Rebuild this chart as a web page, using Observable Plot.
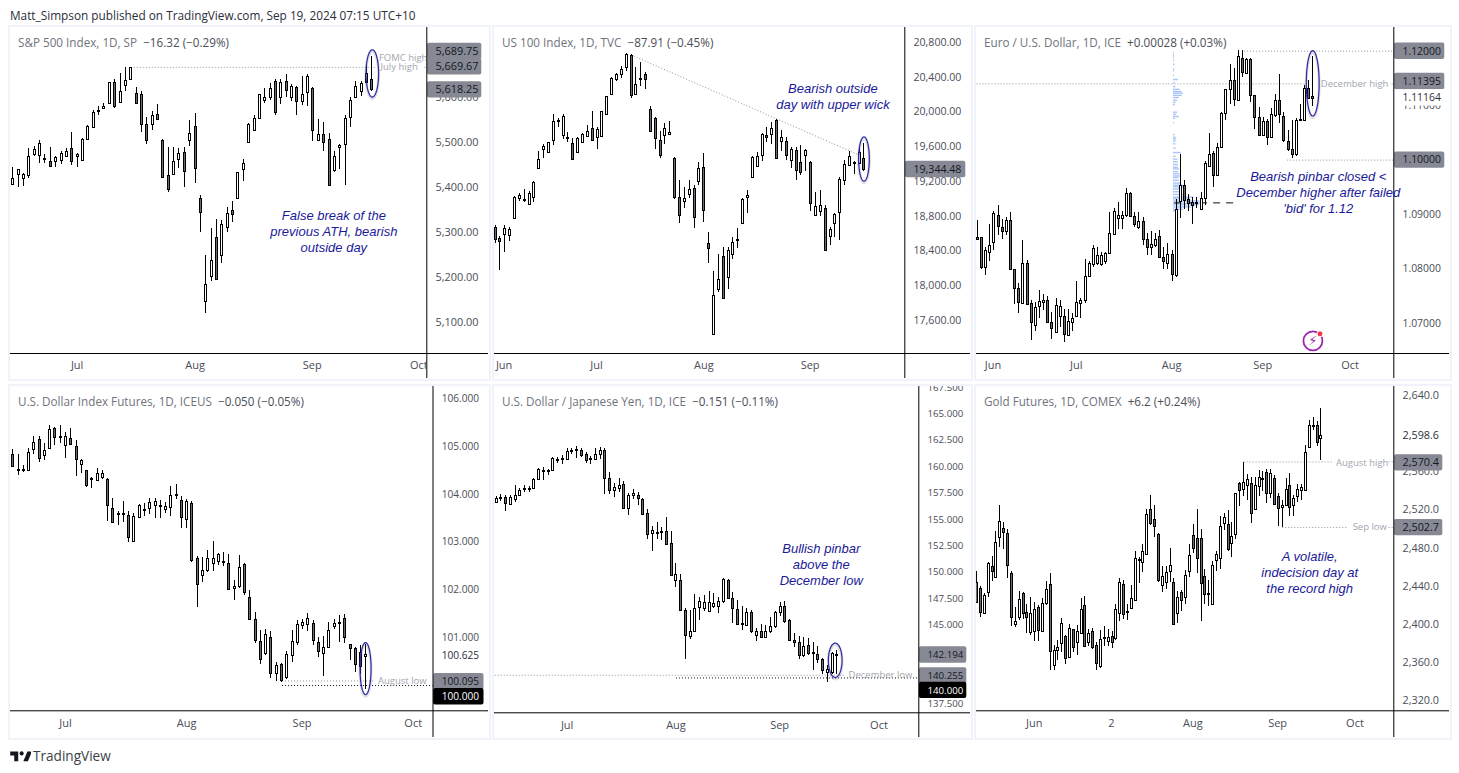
<!DOCTYPE html>
<html><head><meta charset="utf-8">
<script src="https://cdn.jsdelivr.net/npm/d3@7"></script>
<script src="https://cdn.jsdelivr.net/npm/@observablehq/plot@0.6"></script>
<style>
html,body{margin:0;padding:0;background:#fff;width:1459px;height:773px;overflow:hidden;font-family:"Open Sans",sans-serif}
#page{position:relative;width:1459px;height:773px}
.frame{position:absolute;box-sizing:border-box;border:2.5px solid #f0f3fa}
.holder{position:absolute}
.title{position:absolute;font-size:11.7px;line-height:16px;white-space:pre;color:#70737c}
.title b{font-weight:400;color:#4b4e57}
#head{position:absolute;left:10px;top:7px;font-size:11.8px;line-height:16px;color:#2a2e39;white-space:pre}
#foot{position:absolute;left:33px;top:747px;font-size:13.6px;line-height:18px;color:#3c3f48}
#logo{position:absolute;left:10px;top:748px}
</style></head><body><div id="page">
<div id="head">Matt_Simpson published on TradingView.com, Sep 19, 2024 07:15 UTC+10</div>
<svg id="logo" width="21" height="16" viewBox="0 0 36 28"><path fill="#131722" d="M14 6H0v7h7v10h7V6zm17 17h-8l7-17h8l-7 17z"/><circle cx="20" cy="9.5" r="3.6" fill="#131722"/></svg>
<div id="foot">TradingView</div>
</div>
<script>
// ---- S&P 500 ----
const spxHigh=[5444,5440,5432,5486,5490,5504,5473,5489,5470,5481,5487,5522,5476,5508,5537,5570,5581,5587,5633,5641,5654,5667,5667,5622,5613,5555,5568,5584,5506,5488,5488,5486,5488,5548,5564,5382,5249,5310,5328,5327,5356,5368,5434,5462,5543,5559,5607,5619,5630,5641,5639,5650,5628,5625,5647,5650,5622,5551,5544,5519,5481,5495,5560,5599,5636,5636,5670,5690];
const spxTop=[5419,5439,5428,5470,5484,5497,5464,5457,5466,5475,5481,5486,5473,5506,5536,5566,5571,5581,5633,5633,5613,5637,5666,5608,5606,5541,5561,5563,5504,5426,5457,5475,5477,5519,5535,5375,5184,5237,5290,5317,5342,5348,5433,5453,5541,5553,5606,5601,5619,5636,5633,5636,5624,5622,5606,5646,5621,5517,5517,5506,5469,5493,5553,5593,5624,5631,5653,5639];
const spxBottom=[5406,5430,5421,5427,5474,5471,5464,5446,5458,5459,5470,5457,5468,5459,5506,5533,5570,5575,5587,5579,5588,5627,5641,5586,5541,5504,5541,5552,5423,5396,5430,5462,5435,5504,5443,5344,5147,5203,5196,5250,5312,5341,5375,5439,5499,5527,5553,5593,5601,5567,5599,5615,5601,5590,5590,5610,5526,5504,5501,5405,5438,5488,5495,5555,5601,5613,5633,5618];
const spxLow=[5406,5401,5403,5419,5470,5453,5453,5445,5445,5451,5468,5450,5444,5459,5506,5532,5561,5575,5586,5576,5586,5613,5638,5586,5522,5496,5527,5552,5419,5389,5430,5442,5401,5491,5410,5301,5119,5191,5195,5232,5299,5323,5374,5414,5499,5526,5550,5586,5593,5561,5585,5600,5591,5561,5583,5581,5503,5504,5479,5402,5434,5441,5405,5534,5601,5602,5633,5613];
const spxDir="uuuuuudduu"+"uduuuuuuud"+"uuuddduddd"+"uududduudu"+"uduuuuuuud"+"ududuududd"+"uuuuuuud";
const spxTicks=[5100,5200,5300,5400,5500,5600];
const spxMonths=[[12,"Jul"],[34,"Aug"],[55.85,"Sep"],[75.75,"Oct"]];

// ---- US 100 ----
const ndxHigh=[18693,18567,18690,18674,19027,19058,19104,19081,19200,19545,19626,19649,19971,19921,19967,19764,19699,19710,19749,19845,20006,19825,20006,20178,20393,20447,20524,20670,20662,20516,20570,20458,20063,19933,19775,19864,19891,19472,19211,19135,19211,19154,19415,19518,18613,18160,18360,18440,18436,18552,18655,19004,19096,19484,19538,19753,19818,19879,19917,19787,19710,19591,19587,19611,19568,19430,19070,19096,18920,18674,18835,19250,19442,19541,19430,19576,19634];
const ndxTop=[18667,18544,18655,18644,19020,19035,18993,19062,19192,19449,19599,19645,19887,19906,19944,19703,19637,19695,19737,19772,19806,19799,20002,20175,20386,20432,20485,20666,20650,20317,20382,20428,20029,19925,19668,19806,19768,19465,19020,19008,19104,19115,19346,19357,18482,17884,18068,18337,18402,18494,18532,18993,19035,19476,19492,19745,19726,19806,19902,19703,19664,19564,19553,19415,19561,19423,18908,18924,18885,18644,18816,19219,19400,19492,19415,19530,19461];
const ndxBottom=[18529,18513,18586,18582,18778,19004,18985,18931,19012,19346,19564,19534,19668,19898,19733,19691,19457,19534,19649,19722,19668,19703,19722,19975,20205,20374,20435,20516,20194,20205,20374,20378,19779,19691,19499,19733,19737,19020,18812,18974,19050,18782,19204,18870,18425,17435,17953,17849,18091,18356,18528,18713,19012,19242,19376,19503,19703,19745,19468,19657,19503,19438,19330,19307,19495,18943,18812,18855,18402,18563,18713,18847,19211,19380,19411,19411,19344];
const ndxLow=[18482,18179,18387,18513,18770,18974,18954,18927,18962,19342,19461,19526,19614,19825,19680,19645,19453,19518,19641,19710,19664,19572,19718,19971,20194,20355,20389,20466,20159,20201,20293,20259,19775,19572,19465,19626,19729,18997,18720,18893,19000,18663,19154,18732,18260,17431,17926,17846,17961,18306,18433,18709,18835,19238,19373,19434,19645,19626,19457,19541,19438,19346,19211,19269,19315,18858,18801,18801,18398,18463,18559,18521,19158,19376,19284,19407,19319];
const ndxDir="dduuuuuuuu"+"uuuuudduuu"+"duuuuuuudu"+"ddddduuddu"+"ududduuduu"+"uuuuuududu"+"dudduduudu"+"uuuuuud";
const ndxTicks=[17600,18000,18400,18800,19200,19600,20000,20400,20800];
const ndxMonths=[[1.85,"Jun"],[20.9,"Jul"],[43,"Aug"],[64.9,"Sep"]];

// ---- EUR/USD ----
const eurHigh=[1.0889,1.0858,1.0840,1.0882,1.0906,1.0916,1.0891,1.0895,1.0903,1.0800,1.0773,1.0852,1.0816,1.0743,1.0739,1.0760,1.0753,1.0750,1.0721,1.0745,1.0742,1.0725,1.0725,1.0718,1.0777,1.0746,1.0817,1.0813,1.0843,1.0840,1.0830,1.0830,1.0904,1.0911,1.0923,1.0906,1.0947,1.0940,1.0904,1.0904,1.0895,1.0865,1.0869,1.0865,1.0871,1.0840,1.0847,1.0834,1.0927,1.1010,1.0963,1.0937,1.0932,1.0932,1.0940,1.0998,1.1048,1.1016,1.1030,1.1088,1.1130,1.1176,1.1168,1.1201,1.1201,1.1186,1.1186,1.1119,1.1096,1.1078,1.1074,1.1094,1.1120,1.1157,1.1088,1.1054,1.1073,1.1076,1.1102,1.1137,1.1146,1.1191];
const eurTop=[1.0858,1.0857,1.0834,1.0844,1.0902,1.0899,1.0877,1.0890,1.0890,1.0799,1.0764,1.0811,1.0811,1.0737,1.0730,1.0740,1.0743,1.0743,1.0701,1.0733,1.0732,1.0713,1.0703,1.0710,1.0738,1.0743,1.0786,1.0811,1.0837,1.0824,1.0824,1.0829,1.0865,1.0905,1.0899,1.0898,1.0938,1.0939,1.0896,1.0888,1.0888,1.0854,1.0845,1.0854,1.0859,1.0822,1.0827,1.0827,1.0909,1.0953,1.0953,1.0927,1.0923,1.0922,1.0930,1.0993,1.1011,1.1013,1.1024,1.1086,1.1129,1.1147,1.1147,1.1191,1.1187,1.1185,1.1185,1.1118,1.1078,1.1070,1.1070,1.1083,1.1109,1.1109,1.1080,1.1035,1.1019,1.1073,1.1074,1.1131,1.1131,1.1116];
const eurBottom=[1.0855,1.0802,1.0802,1.0831,1.0848,1.0879,1.0868,1.0868,1.0799,1.0764,1.0739,1.0737,1.0735,1.0701,1.0696,1.0731,1.0739,1.0702,1.0690,1.0684,1.0712,1.0679,1.0678,1.0702,1.0713,1.0737,1.0743,1.0786,1.0809,1.0810,1.0808,1.0813,1.0828,1.0864,1.0893,1.0893,1.0898,1.0896,1.0881,1.0877,1.0854,1.0839,1.0839,1.0843,1.0822,1.0813,1.0811,1.0790,1.0788,1.0924,1.0926,1.0921,1.0917,1.0920,1.0910,1.0930,1.0989,1.0971,1.0971,1.1023,1.1085,1.1129,1.1111,1.1109,1.1160,1.1159,1.1118,1.1078,1.1046,1.1045,1.1042,1.1042,1.1082,1.1083,1.1036,1.1019,1.1011,1.1010,1.1073,1.1073,1.1114,1.1114];
const eurLow=[1.0855,1.0800,1.0788,1.0813,1.0834,1.0862,1.0855,1.0862,1.0798,1.0734,1.0719,1.0736,1.0734,1.0668,1.0686,1.0710,1.0724,1.0702,1.0671,1.0683,1.0693,1.0665,1.0678,1.0686,1.0713,1.0710,1.0737,1.0785,1.0802,1.0806,1.0804,1.0809,1.0827,1.0862,1.0873,1.0873,1.0895,1.0895,1.0876,1.0873,1.0844,1.0825,1.0825,1.0840,1.0821,1.0800,1.0800,1.0778,1.0784,1.0893,1.0909,1.0906,1.0882,1.0911,1.0909,1.0917,1.0987,1.0950,1.0970,1.1022,1.1073,1.1102,1.1098,1.1109,1.1152,1.1157,1.1106,1.1056,1.1045,1.1044,1.1027,1.1040,1.1078,1.1068,1.1033,1.1016,1.1003,1.1007,1.1073,1.1071,1.1112,1.1098];
const eurDir="dduuuddudd"+"dudduuuddu"+"uduuuuuuuu"+"uuuuuuuddu"+"dduudduduu"+"ddduuuuduu"+"uudududddu"+"duudddduuudd";
const eurTicks=[1.07,1.08,1.09,1.10,1.11,1.12];
const eurMonths=[[3.8,"Jun"],[23.9,"Jul"],[46.9,"Aug"],[68.9,"Sep"],[89.95,"Oct"]];
const eurProfilePrice=[1.1197,1.1193,1.1190,1.1186,1.1182,1.1175,1.1166,1.1163,1.1155,1.1147,1.1141,1.1134,1.1129,1.1125,1.1122,1.1118,1.1114,1.1109,1.1105,1.1101,1.1087,1.1083,1.1079,1.1076,1.1068,1.1046,1.1041,1.1038,1.1034,1.1029,1.1021,1.1013,1.1006,1.1001,1.0996,1.0991,1.0986,1.0983,1.0978,1.0974,1.0970,1.0967,1.0962,1.0957,1.0953,1.0950,1.0946,1.0941,1.0936,1.0931,1.0928,1.0924,1.0920,1.0917,1.0913,1.0909,1.0906];
const eurProfileVolume=[3,3,3,3,3,5,4,3,3,15,5,7,20,26,30,26,18,12,8,6,12,10,18,6,3,5,8,10,8,7,8,24,8,14,14,15,15,18,15,20,22,16,18,22,30,36,20,25,35,62,50,80,90,78,55,30,10];

// ---- DXY ----
const dxyHigh=[104.93,104.83,104.60,104.95,105.21,105.21,105.06,105.44,105.41,105.44,105.30,105.38,105.13,104.72,104.50,104.35,104.54,104.50,104.34,103.92,103.65,103.85,103.65,103.59,103.78,103.81,103.91,103.92,103.87,103.83,104.16,104.21,103.95,103.90,103.86,102.71,102.67,102.82,103.01,102.77,102.78,102.75,102.19,102.72,102.55,101.98,101.52,101.16,101.17,101.13,100.48,100.46,100.71,101.15,101.37,101.38,101.50,101.37,101.01,101.02,101.31,101.39,101.46,101.48,100.85,100.80,100.83,100.85];
const dxyTop=[104.83,104.53,104.53,104.87,105.08,105.14,104.91,105.35,105.37,105.21,105.22,105.18,105.00,104.71,104.49,104.34,104.44,104.43,104.32,103.70,103.60,103.61,103.55,103.53,103.76,103.69,103.83,103.86,103.76,103.74,103.97,103.99,103.88,103.86,103.80,102.65,102.40,102.65,102.66,102.74,102.60,102.56,102.08,102.46,102.53,101.85,101.38,100.92,101.06,101.01,100.41,100.43,100.64,100.93,101.27,101.31,101.41,101.29,100.89,100.80,101.16,101.29,101.31,101.41,100.85,100.78,100.69,100.64];
const dxyBottom=[104.59,104.51,104.52,104.51,104.93,104.76,104.81,104.97,105.20,105.20,105.02,105.04,104.72,104.63,104.18,104.32,104.29,104.36,103.77,103.42,103.59,103.60,103.09,103.02,103.52,103.67,103.70,103.76,103.74,103.69,103.72,103.97,103.51,103.48,102.61,102.12,102.31,102.40,102.56,102.60,102.59,102.02,102.04,102.07,101.95,101.38,100.95,100.55,100.66,100.25,100.25,100.11,100.16,100.62,100.90,101.26,101.27,100.94,100.71,100.66,100.80,101.24,101.29,101.01,100.78,100.45,100.39,100.60];
const dxyLow=[104.58,104.39,104.45,104.51,104.84,104.67,104.70,104.93,105.03,105.07,104.76,105.02,104.38,104.44,104.14,104.13,104.27,104.32,103.43,103.40,103.35,103.42,103.00,103.01,103.51,103.53,103.57,103.50,103.50,103.59,103.53,103.90,103.29,103.29,102.58,101.63,102.16,102.37,102.39,102.52,102.50,102.01,101.77,102.04,101.89,101.37,100.88,100.44,100.63,100.15,100.09,100.07,100.13,100.48,100.83,101.17,101.13,100.83,100.59,100.19,100.78,101.17,100.90,100.87,100.53,100.27,100.24,99.92];
const dxyDir="dduuuduudu"+"uddudduudd"+"uuduuuuuuu"+"uddudduuuu"+"dduuddddud"+"uduuuuuddu"+"uuuddddu";
const dxyTicks=[101,102,103,104,105,106];
const dxyMonths=[[10,"Jul"],[33,"Aug"],[54.9,"Sep"],[76,"Oct"]];

// ---- USD/JPY ----
const jpyHigh=[157.17,157.33,157.29,157.26,158.18,157.93,158.18,158.12,158.87,159.82,159.88,159.76,160.83,160.83,161.05,161.72,161.68,161.91,161.68,161.31,160.96,161.72,161.81,161.72,159.41,158.43,158.84,158.59,157.42,157.80,157.52,157.01,155.91,154.33,154.67,154.26,155.15,153.82,150.88,149.75,146.62,146.37,147.88,147.63,147.79,148.17,147.95,147.57,149.37,149.34,148.07,147.31,146.81,146.53,146.43,144.66,145.10,145.01,145.74,146.27,147.16,147.22,145.52,144.16,143.97,143.84,143.71,143.37,143.02,141.88,141.16,142.42,142.64];
const jpyTop=[156.98,157.07,157.04,157.04,157.23,157.71,157.90,157.90,158.81,159.69,159.63,159.63,160.77,160.71,160.80,161.40,161.50,161.59,161.53,161.15,160.74,161.18,161.56,161.50,158.84,157.99,158.24,158.27,157.30,157.42,157.23,156.85,155.53,153.92,153.79,153.88,153.88,152.68,149.78,149.27,146.34,144.41,146.62,147.19,147.13,147.13,147.06,147.19,149.31,149.27,147.54,146.49,145.14,146.15,146.15,144.44,144.44,144.44,144.85,146.15,146.81,146.81,145.42,143.59,143.40,143.02,143.11,142.39,142.26,141.76,140.78,142.29,142.26];
const jpyBottom=[156.63,156.98,156.50,156.44,156.88,157.26,157.83,157.83,157.90,158.81,159.57,159.60,159.60,160.64,160.74,160.64,161.43,161.50,161.02,160.58,160.67,160.71,161.15,158.84,157.74,157.77,157.96,156.06,156.06,157.23,156.95,155.49,153.60,153.63,153.63,153.73,152.59,149.68,149.27,146.40,144.03,143.94,144.41,146.68,146.62,146.30,146.78,146.81,147.19,147.54,146.53,145.10,145.07,145.01,144.35,144.06,143.87,143.84,144.44,144.85,146.18,145.36,143.59,143.37,142.17,142.14,142.33,142.29,141.79,140.75,140.53,140.53,142.17];
const jpyLow=[156.60,156.73,155.78,156.41,156.60,157.17,157.55,157.55,157.86,158.68,158.72,159.16,159.57,160.29,160.23,160.58,161.15,160.80,160.83,160.29,160.20,160.67,160.67,157.36,157.36,157.11,157.55,156.03,155.37,156.88,156.32,155.46,153.09,151.96,153.09,153.03,152.56,149.62,148.58,146.37,141.76,143.65,144.31,145.45,146.30,146.24,146.53,146.11,147.00,147.50,145.14,145.04,144.47,144.95,144.16,143.43,143.81,143.71,144.22,144.69,145.80,145.17,143.53,142.89,141.76,141.95,142.11,140.68,141.32,140.37,139.58,140.30,140.30];
const jpyDir="uuduuuuuuu"+"uuuuuuuudd"+"uuudduuduu"+"ddduuuddud"+"duuuuuuuud"+"dduududuuu"+"uddddududd"+"uuu";
const jpyTicks=[137.5,140,142.5,145,147.5,150,152.5,155,157.5,160,162.5,165,167.5];
const jpyMonths=[[15,"Jul"],[38,"Aug"],[59.9,"Sep"],[80.9,"Oct"]];

// ---- Gold ----
const goldHigh=[2455,2440,2432,2465,2471,2497,2525,2507,2500,2455,2418,2435,2434,2421,2428,2423,2420,2427,2445,2453,2378,2383,2406,2388,2400,2395,2399,2427,2429,2395,2396,2381,2394,2398,2395,2393,2421,2448,2446,2421,2441,2477,2470,2484,2521,2535,2525,2495,2461,2461,2480,2448,2435,2436,2457,2484,2505,2521,2500,2458,2446,2466,2476,2513,2516,2519,2507,2537,2549,2570,2557,2554,2554,2561,2560,2562,2562,2556,2537,2530,2553,2558,2535,2547,2547,2588,2614,2617,2613,2626];
const goldTop=[2444,2438,2430,2464,2461,2486,2508,2501,2495,2453,2403,2426,2432,2413,2411,2416,2418,2422,2437,2442,2373,2376,2401,2387,2396,2395,2393,2416,2420,2391,2393,2378,2384,2386,2386,2387,2416,2444,2442,2414,2427,2469,2468,2476,2515,2520,2510,2494,2450,2454,2462,2444,2428,2434,2451,2472,2493,2490,2490,2450,2432,2462,2473,2503,2512,2505,2492,2537,2548,2549,2552,2548,2546,2554,2553,2559,2558,2553,2534,2525,2542,2546,2532,2542,2544,2580,2609,2609,2609,2598];
const goldBottom=[2423,2413,2412,2433,2455,2449,2491,2496,2462,2407,2400,2407,2411,2407,2392,2393,2394,2393,2422,2372,2357,2373,2380,2364,2365,2376,2381,2391,2377,2381,2376,2359,2356,2385,2382,2381,2385,2411,2410,2413,2417,2425,2467,2465,2473,2506,2503,2446,2441,2444,2456,2400,2411,2425,2428,2455,2480,2469,2443,2431,2431,2421,2467,2469,2506,2479,2485,2494,2540,2541,2546,2516,2520,2545,2552,2537,2537,2526,2522,2523,2525,2523,2525,2534,2540,2540,2586,2609,2591,2595];
const goldLow=[2423,2407,2411,2428,2445,2448,2481,2479,2448,2398,2397,2404,2405,2391,2388,2382,2382,2393,2420,2352,2352,2362,2371,2358,2365,2371,2367,2389,2377,2377,2374,2352,2354,2377,2377,2375,2383,2403,2405,2404,2416,2424,2443,2454,2472,2504,2491,2444,2433,2437,2444,2399,2401,2414,2421,2449,2474,2453,2403,2421,2419,2420,2456,2458,2498,2476,2470,2489,2524,2534,2530,2506,2519,2534,2539,2527,2532,2526,2503,2502,2524,2513,2513,2528,2530,2539,2585,2603,2587,2572];
const goldDir="dduuduuddd"+"uudduuduud"+"uuududuudu"+"dduuuduudu"+"uuuuuddduu"+"ududuudddd"+"uuuuuduudu"+"uduuududdu"+"uduuuuuudu";
const goldTicks=[2320,2360,2400,2440,2480,2520,2560,2600,2640];
const goldMonths=[[14.9,"Jun"],[34.85,"2"],[55.9,"Aug"],[77.8,"Sep"],[97.8,"Oct"]];

const GREY="#868993", BLUE="#1a1a99", NOTE="#a3a6af", DOT="#8f929b";

const panels=[
 {name:"S&P 500 Index, 1D, SP",chg:"  \u221216.32 (\u22120.29%)",L:10,T:27,R:488,B:378,axisX:426.3,axisY:353,xd:[-0.435,77.24],yd:[5031.2,5755.5],fs:10.9,
  high:spxHigh,top:spxTop,bottom:spxBottom,low:spxLow,dir:spxDir,ticks:spxTicks,fmt:",.2f",months:spxMonths,boxW:55,
  boxes:[{t:"5,689.75",at:5702.2},{t:"5,669.67",at:5668},{t:"5,618.25",at:5617}],
  levels:[[22,5667,67.6,5667,"g"],[76.8,5667,77.24,5667,"g"]],
  ring:[65.9,68.25,5601,5706],
  note:{t:"False break of the\nprevious ATH, bearish\noutside day",x:59.9,y:5301.5},
  tags:[{t:"FOMC high",x:68.3,y:5687.4},{t:"July high",x:68.6,y:5667.4}]},
 {name:"US 100 Index, 1D, TVC",chg:"  \u221287.91 (\u22120.45%)",L:494,T:27,R:970,B:378,axisX:904.3,axisY:353,xd:[-0.13,84.41],yd:[17220,20973],fs:10.6,
  high:ndxHigh,top:ndxTop,bottom:ndxBottom,low:ndxLow,dir:ndxDir,ticks:ndxTicks,fmt:",.2f",months:ndxMonths,boxW:61,
  boxes:[{t:"19,344.48",at:19338}],
  levels:[[28,20658,75.2,19499,"g"]],
  ring:[74.9,77.1,19204,19714],
  note:{t:"Bearish outside\nday with upper wick",x:69.6,y:20174.5},tags:[]},
 {name:"Euro / U.S. Dollar, 1D, ICE",chg:"  +0.00028 (+0.03%)",L:976,T:27,R:1449,B:378,axisX:1393.3,axisY:353,xd:[-0.2,100.52],yd:[1.06449,1.12435],fs:10.4,
  high:eurHigh,top:eurTop,bottom:eurBottom,low:eurLow,dir:eurDir,ticks:eurTicks,fmt:".5f",months:eurMonths,boxW:51,
  boxes:[{t:"1.12000",at:1.12},{t:"1.11395",at:1.11443},{t:"1.11164",at:1.11143,white:1},{t:"1.10000",at:1.09999}],
  levels:[[64.4,1.12,100.52,1.12,"g"],[-0.2,1.114,79.4,1.114,"g"],[100,1.114,100.52,1.114,"g"],[74.8,1.1,100.52,1.1,"g"],[47.5,1.09215,62,1.09215,"d"]],
  ring:[79.4,82.5,1.1081,1.1201],
  note:{t:"Bearish pinbar closed <\nDecember higher after failed\n'bid' for 1.12",x:82.3,y:1.09399},
  tags:[{t:"December high",x:82.9,y:1.114}],
  profile:true,icon:{x:81,y:1.0668,rx:82.7,ry:1.0681}},
 {name:"U.S. Dollar Index Futures, 1D, ICEUS",chg:"  \u22120.050 (\u22120.05%)",L:10,T:386,R:488,B:737,axisX:432.5,axisY:710.3,xd:[-0.44,79.75],yd:[99.471,106.258],fs:10.1,
  high:dxyHigh,top:dxyTop,bottom:dxyBottom,low:dxyLow,dir:dxyDir,ticks:dxyTicks,fmt:".3f",months:dxyMonths,boxW:51,
  boxes:[{t:"100.625",at:100.623,white:1},{t:"100.095",at:100.078},{t:"100.000",at:99.764,black:1}],
  levels:[[51.1,100.095,68.5,100.095,"g"],[51.1,100.0,79.75,100.0,"k"]],
  ring:[65.9,68,99.81,100.9],
  tags:[{t:"August low",x:69.3,y:100.1}]},
 {name:"U.S. Dollar / Japanese Yen, 1D, ICE",chg:"  \u22120.151 (\u22120.11%)",L:494,T:386,R:970,B:737,axisX:918.3,axisY:712.3,xd:[-0.345,89.31],yd:[136.7,167.59],fs:9.7,
  high:jpyHigh,top:jpyTop,bottom:jpyBottom,low:jpyLow,dir:jpyDir,ticks:jpyTicks,fmt:".3f",months:jpyMonths,boxW:48,
  boxes:[{t:"142.194",at:142.17},{t:"140.255",at:140.18},{t:"140.000",at:138.82,black:1}],
  levels:[[-0.3,140.255,73.5,140.255,"g"],[38,140,89.31,140,"k"]],
  ring:[70.2,73.1,140.05,143.3],
  note:{t:"Bullish pinbar\nabove the\nDecember low",x:68.7,y:150.69},
  tags:[{t:"December low",x:74.46,y:140.24}]},
 {name:"Gold Futures, 1D, COMEX",chg:"  +6.2 (+0.24%)",L:976,T:386,R:1449,B:737,axisX:1393.3,axisY:710.3,xd:[-0.04,107.84],yd:[2309.5,2649.45],fs:10.8,
  high:goldHigh,top:goldTop,bottom:goldBottom,low:goldLow,dir:goldDir,ticks:goldTicks,fmt:",.1f",months:goldMonths,boxW:49,
  boxes:[{t:"2,598.6",at:2598,white:1},{t:"2,570.4",at:2569.4},{t:"2,502.7",at:2501.5}],
  levels:[[69,2570.4,92,2570.4,"g"],[106.5,2570.4,107.84,2570.4,"g"],[79,2501.7,96,2501.7,"g"],[106.5,2501.7,107.84,2501.7,"g"]],
  note:{t:"A volatile,\nindecision day at\nthe record high",x:86.1,y:2453.9},
  tags:[{t:"August high",x:92.9,y:2569},{t:"Sep low",x:97.2,y:2501.9}]}
];

// Candles are pixel-snapped the way a trading chart does: wick on a pixel
// column, body three pixels wide centred on it.
function snapCandles(svg,n){
  const groups=[...svg.children].filter(g=>g.tagName.toLowerCase()==="g");
  const wicks=groups.find(g=>g.querySelectorAll("line").length===n);
  const bodies=groups.find(g=>g.querySelectorAll("rect").length===n);
  if(wicks){
    wicks.removeAttribute("transform");
    wicks.querySelectorAll("line").forEach(l=>{
      const cx=Math.round(+l.getAttribute("x1"));
      l.setAttribute("x1",cx+0.5);l.setAttribute("x2",cx+0.5);
      l.setAttribute("y1",Math.round(+l.getAttribute("y1")));
      l.setAttribute("y2",Math.round(+l.getAttribute("y2")));
    });
  }
  if(bodies){
    bodies.removeAttribute("transform");
    bodies.querySelectorAll("rect").forEach(r=>{
      const x=+r.getAttribute("x"),w=+r.getAttribute("width"),y=+r.getAttribute("y"),h=+r.getAttribute("height");
      const cx=Math.round(x+w/2);
      r.setAttribute("x",cx-0.5);r.setAttribute("width",2);
      const y0=Math.round(y),y1=Math.max(y0+1,Math.round(y+h));
      r.setAttribute("y",y0+0.5);r.setAttribute("height",y1-y0);
    });
  }
}

const page=document.getElementById("page");
for(const p of panels){
  const frame=document.createElement("div");
  frame.className="frame";
  Object.assign(frame.style,{left:(p.L-2.5)+"px",top:(p.T-2.5)+"px",width:(p.R-p.L+5)+"px",height:(p.B-p.T+5)+"px"});
  page.appendChild(frame);

  const W=p.R-p.L, H=p.B-p.T;
  const plotW=p.axisX-p.L, plotH=p.axisY-p.T;
  const xPerPx=(p.xd[1]-p.xd[0])/plotW, yPerPx=(p.yd[1]-p.yd[0])/plotH;
  const xEnd=p.xd[1], yFoot=p.yd[0]-(p.B-p.axisY)*yPerPx;
  const xFar=p.xd[1]+(p.R-p.axisX)*xPerPx;

  const candles=p.high.map((h,i)=>({i,h,t:p.top[i],b:p.bottom[i],l:p.low[i],up:p.dir[i]==="u"}));
  const half=1.5*xPerPx;
  const labels=new Map(p.months);
  const marks=[];

  marks.push(Plot.axisX(p.months.map(m=>m[0]),{anchor:"bottom",tickSize:0,tickPadding:8,fontSize:11,color:"#4a4d57",label:null,tickFormat:d=>labels.get(d)}));

  if(p.profile){
    const start=47.34, perUnit=1/12.44;
    const rows=eurProfilePrice.map((v,j)=>({v,w:eurProfileVolume[j]}));
    marks.push(Plot.rect(rows,{x1:()=>start,x2:d=>start+d.w*perUnit,y1:d=>d.v-0.00013,y2:d=>d.v+0.00013,fill:"#a9c5f7"}));
  }

  marks.push(Plot.link(p.levels.filter(l=>l[4]!=="d"),{x1:d=>d[0],y1:d=>d[1],x2:d=>d[2],y2:d=>d[3],stroke:d=>d[4]==="k"?"#111":DOT,strokeDasharray:"1,2",strokeWidth:1}));
  marks.push(Plot.link(p.levels.filter(l=>l[4]==="d"),{x1:d=>d[0],y1:d=>d[1],x2:d=>d[2],y2:d=>d[3],stroke:"#111",strokeDasharray:"7,6",strokeWidth:1}));

  marks.push(Plot.ruleX(candles,{x:"i",y1:"l",y2:"h",stroke:"#000",strokeWidth:1}));
  marks.push(Plot.rect(candles,{x1:d=>d.i-half,x2:d=>d.i+half,y1:"b",y2:"t",fill:d=>d.up?"#fff":"#6b6d76",stroke:"#000",strokeWidth:1}));

  if(p.tags.length) marks.push(Plot.text(p.tags,{x:"x",y:"y",text:"t",textAnchor:"start",fontSize:9.5,fill:NOTE}));

  if(p.ring){
    const [x1,x2,y1,y2]=p.ring;
    const pts=d3.range(0,61).map(k=>{const a=k/60*2*Math.PI;return {x:(x1+x2)/2+(x2-x1)/2*Math.cos(a),y:(y1+y2)/2+(y2-y1)/2*Math.sin(a)};});
    marks.push(Plot.line(pts,{x:"x",y:"y",stroke:"#000",strokeOpacity:0.12,strokeWidth:3,dy:1.5}));
    marks.push(Plot.line(pts,{x:"x",y:"y",stroke:"#2d2aa6",strokeWidth:1.2}));
  }

  // price-scale gutter: hides whatever runs under it, then ticks and tags
  marks.push(Plot.rect([0],{x1:()=>xEnd,x2:()=>xFar,y1:()=>yFoot,y2:()=>p.yd[1],fill:"#fff"}));
  marks.push(Plot.axisY(p.ticks,{anchor:"right",tickSize:0,tickPadding:8.7,fontSize:p.fs,color:"#4a4d57",label:null,tickFormat:d3.format(p.fmt)}));
  const hh=8.2*yPerPx;
  marks.push(Plot.rect(p.boxes,{x1:()=>xEnd+0.6*xPerPx,x2:()=>xEnd+p.boxW*xPerPx,y1:d=>d.at-hh,y2:d=>d.at+hh,rx:2,fill:d=>d.white?"#fff":d.black?"#000":GREY}));
  marks.push(Plot.text(p.boxes,{x:()=>xEnd,y:"at",text:"t",dx:8.7,textAnchor:"start",fontSize:p.fs,fill:d=>d.black?"#fff":d.white?"#2a2e39":"#131722"}));

  marks.push(Plot.ruleX([xEnd],{y1:()=>yFoot,y2:()=>p.yd[1],stroke:"#000",strokeWidth:1}));
  marks.push(Plot.ruleY([p.yd[0]],{x1:()=>p.xd[0],x2:()=>xFar,stroke:"#000",strokeWidth:1}));

  if(p.note) marks.push(Plot.text([p.note],{x:"x",y:"y",text:"t",dy:-1,fontSize:13,lineHeight:1.23,fontStyle:"italic",fontFamily:"'Liberation Sans',Arial,sans-serif",fill:BLUE}));

  if(p.icon){
    marks.push(Plot.dot([p.icon],{x:"x",y:"y",r:9.5,stroke:"#9c27b0",strokeWidth:1.8,fill:"#fff"}));
    marks.push(Plot.text([p.icon],{x:"x",y:"y",text:()=>"\u26A1",fontSize:13,fill:"#9c27b0",fontFamily:"'DejaVu Sans'"}));
    marks.push(Plot.dot([p.icon],{x:"rx",y:"ry",r:3,fill:"#f23645",stroke:"#fff",strokeWidth:1}));
  }

  const chart=Plot.plot({
    width:W,height:H,
    marginTop:0,marginLeft:0,marginRight:p.R-p.axisX,marginBottom:p.B-p.axisY,
    x:{type:"linear",domain:p.xd},
    y:{type:"linear",domain:p.yd},
    style:{fontFamily:"'Open Sans',sans-serif",background:"transparent",overflow:"hidden",maxWidth:"none"},
    marks
  });
  snapCandles(chart,candles.length);
  const holder=document.createElement("div");
  holder.className="holder";
  Object.assign(holder.style,{left:p.L+"px",top:p.T+"px",width:W+"px",height:H+"px"});
  holder.appendChild(chart);
  page.appendChild(holder);

  const title=document.createElement("div");
  title.className="title";
  title.style.left=(p.L+8)+"px";
  title.style.top=(p.T+7)+"px";
  title.textContent=p.name;
  const b=document.createElement("b");
  b.textContent=p.chg;
  title.appendChild(b);
  page.appendChild(title);
}
</script>
</body></html>
